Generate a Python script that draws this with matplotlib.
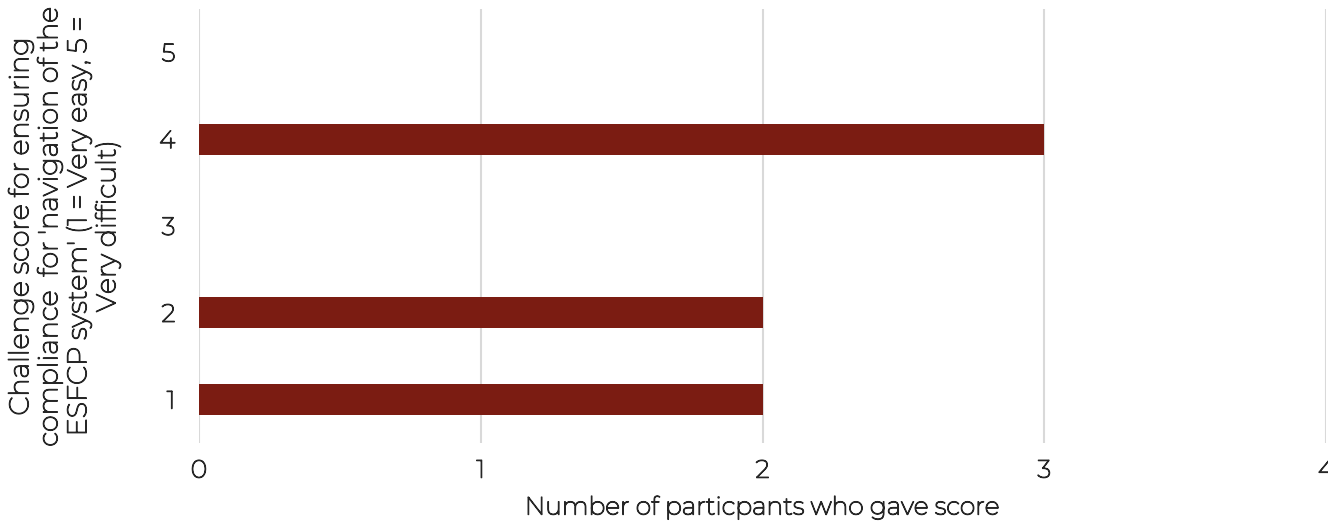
import numpy as np
import matplotlib.pyplot as plt
import matplotlib.patheffects as pe

# challenge scores and how many participants gave each
scores = [1, 2, 3, 4, 5]
counts = [2, 2, 0, 3, 0]

bar_color = '#7b1c12'
text_color = '#262626'

plt.rcParams['font.family'] = ['Montserrat', 'DejaVu Sans']
# the installed Montserrat is very light, so give the glyphs a thin outline
bold = [pe.withStroke(linewidth=0.9, foreground=text_color)]

fig = plt.figure(figsize=(13.28, 5.24), dpi=100)
ax = fig.add_axes([199 / 1328, 81 / 524, 1127 / 1328, 434 / 524])

ax.barh(scores, counts, height=0.36, color=bar_color, zorder=3)

ax.set_xlim(0, 4)
ax.set_ylim(0.5, 5.5)
ax.set_xticks(np.arange(0, 5))
ax.set_yticks(scores)
ax.grid(axis='x', color='#d9d9d9', linewidth=1.5, zorder=0)
ax.grid(axis='y', visible=False)
for s in ax.spines.values():
    s.set_visible(False)
ax.tick_params(axis='both', length=0, labelsize=18, labelcolor=text_color)
ax.tick_params(axis='x', pad=12)
ax.tick_params(axis='y', pad=17)
for lbl in ax.get_xticklabels() + ax.get_yticklabels():
    lbl.set_path_effects(bold)

ax.set_xlabel('Number of particpants who gave score', fontsize=18,
              color=text_color, labelpad=10, path_effects=bold)
ax.set_ylabel("Challenge score for ensuring\ncompliance  for 'navigation of the\n"
              "ESFCP system' (1 = Very easy, 5 =\nVery difficult)",
              fontsize=19.5, color=text_color, labelpad=28, linespacing=1.2,
              path_effects=bold)

fig.savefig('out.png', dpi=100)
